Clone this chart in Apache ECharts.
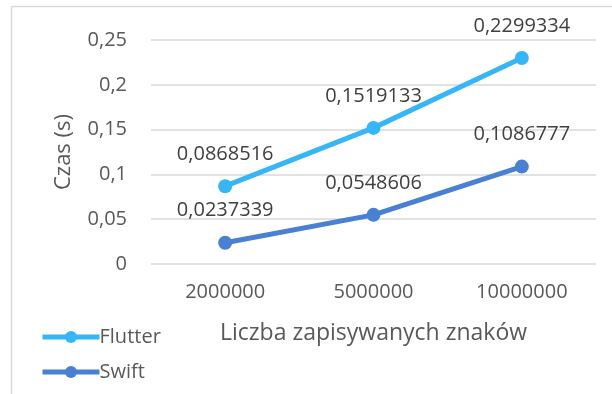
<!DOCTYPE html>
<html>
<head>
<meta charset="utf-8">
<script src="https://cdn.jsdelivr.net/npm/echarts@6/dist/echarts.min.js"></script>
<style type="text/css">
html, body { margin:0; padding:0; background:#fff; }
#main { width:612px; height:394px; }
</style>
</head>
<body>
<div id="main"></div>
<script type="text/javascript">
    // dane
    var kategorie = ['2000000', '5000000', '10000000'];
    var flutter = [0.0868516, 0.1519133, 0.2299334];
    var swift = [0.0237339, 0.0548606, 0.1086777];
    var yTicks = [0, 0.05, 0.1, 0.15, 0.2, 0.25];

    var font = '"Open Sans", sans-serif';

    function przecinek(v) {
        return String(v).replace('.', ',');
    }

    var myChart = echarts.init(document.getElementById('main'));

    function seria(name, data, color) {
        return {
            name: name,
            type: 'line',
            data: data,
            symbol: 'circle',
            symbolSize: 14,
            lineStyle: { width: 5, color: color },
            itemStyle: { color: color },
            label: {
                show: true,
                position: 'top',
                distance: 15,
                fontFamily: font,
                fontSize: 20,
                color: '#404040',
                formatter: function (p) { return przecinek(p.value); }
            },
            animation: false
        };
    }

    var option = {
        backgroundColor: '#fff',
        textStyle: { fontFamily: font },
        graphic: [{
            type: 'rect',
            shape: { x: 11.5, y: 6.5, width: 800, height: 600 },
            style: { fill: 'none', stroke: '#d9d9d9', lineWidth: 1.5 },
            silent: true
        }],
        grid: { left: 151, right: 16, top: 40, bottom: 130 },
        legend: {
            orient: 'vertical',
            left: 35,
            top: 322,
            itemWidth: 57,
            itemHeight: 15,
            itemGap: 15,
            data: ['Flutter', 'Swift'],
            lineStyle: { width: 5 },
            textStyle: { fontFamily: font, fontSize: 20, color: '#595959', padding: [0, 0, 0, -5] }
        },
        xAxis: {
            type: 'category',
            data: kategorie,
            name: 'Liczba zapisywanych znaków',
            nameLocation: 'middle',
            nameGap: 58,
            nameTextStyle: { fontFamily: font, fontSize: 23, color: '#595959' },
            axisLine: { show: false },
            axisTick: { show: false },
            axisLabel: { margin: 18, fontFamily: font, fontSize: 20, color: '#595959' }
        },
        yAxis: {
            type: 'value',
            min: yTicks[0],
            max: yTicks[yTicks.length - 1],
            interval: 0.05,
            name: 'Czas (s)',
            nameLocation: 'middle',
            nameGap: 76,
            nameTextStyle: { fontFamily: font, fontSize: 22, color: '#595959' },
            axisLine: { show: false },
            axisTick: { show: false },
            splitLine: { lineStyle: { color: '#d9d9d9', width: 1.5 } },
            axisLabel: {
                margin: 24,
                fontFamily: font,
                fontSize: 20,
                color: '#595959',
                formatter: function (v) { return przecinek(+v.toFixed(2)); }
            }
        },
        series: [
            seria('Flutter', flutter, '#36b5f7'),
            seria('Swift', swift, '#4a80d4')
        ]
    };
    myChart.setOption(option);
</script>
</body>
</html>
